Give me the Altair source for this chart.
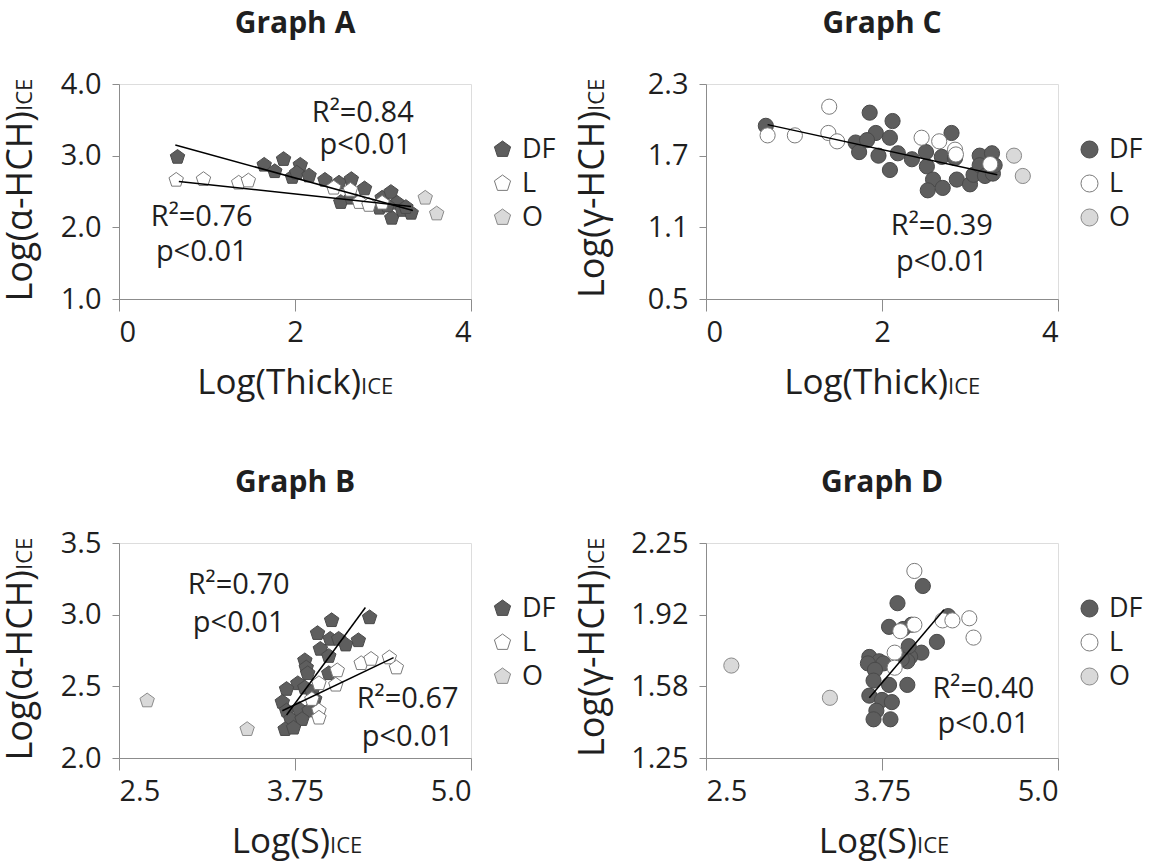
import altair as alt
import pandas as pd

FONT = "Open Sans"
INK = "#1f1f1f"
FRAME = "#8c8c8c"

GROUPS = ["DF", "L", "O"]
FILLS = ["#5e5e5e", "#ffffff", "#d9d9d9"]
STROKES = ["#4a4a4a", "#7a7a7a", "#8a8a8a"]

PENTAGON = "M0,-1L0.951,-0.309L0.588,0.809L-0.588,0.809L-0.951,-0.309Z"

# ---- Graph A: Log(alpha-HCH) vs Log(Thick) ----
a_df_x = [0.665, 1.65, 1.77, 1.87, 1.97, 2.06, 2.02, 2.16, 2.34, 2.50, 2.64, 2.52, 2.64,
          2.79, 2.99, 3.09, 2.96, 3.10, 3.16, 3.22, 3.32, 3.05, 3.26]
a_df_y = [2.98, 2.87, 2.78, 2.95, 2.70, 2.87, 2.76, 2.72, 2.66, 2.62, 2.67, 2.35, 2.41,
          2.54, 2.41, 2.49, 2.27, 2.13, 2.34, 2.24, 2.20, 2.30, 2.28]
a_l_x = [0.65, 0.96, 1.36, 1.47, 2.44, 2.63, 2.73, 2.84, 2.99]
a_l_y = [2.66, 2.67, 2.62, 2.65, 2.55, 2.52, 2.35, 2.31, 2.34]
a_o_x = [3.48, 3.61]
a_o_y = [2.41, 2.19]
a_fit_df = [(0.64, 3.15), (3.34, 2.235)]
a_fit_l = [(0.68, 2.64), (3.32, 2.29)]
a_notes = [("R²=0.84", 2.77, 3.59), ("p<0.01", 2.80, 3.15),
           ("R²=0.76", 0.94, 2.15), ("p<0.01", 0.94, 1.66)]

# ---- Graph B: Log(alpha-HCH) vs Log(S) ----
b_df_x = [4.28, 4.01, 3.91, 4.00, 4.06, 4.11, 4.20, 3.93, 3.99, 3.82, 3.83, 3.84, 3.99,
          3.77, 3.69, 3.82, 3.87, 3.66, 3.69, 3.78, 3.85, 3.89, 3.72, 3.80, 3.68, 3.74]
b_df_y = [2.98, 2.96, 2.87, 2.83, 2.83, 2.79, 2.82, 2.76, 2.71, 2.68, 2.63, 2.59, 2.59,
          2.52, 2.48, 2.49, 2.46, 2.39, 2.33, 2.34, 2.33, 2.41, 2.27, 2.27, 2.20, 2.21]
b_l_x = [4.05, 3.92, 4.04, 4.22, 4.29, 4.42, 4.47, 3.92, 3.92, 3.87]
b_l_y = [2.61, 2.52, 2.51, 2.66, 2.69, 2.70, 2.63, 2.33, 2.28, 2.41]
b_o_x = [2.70, 3.41]
b_o_y = [2.40, 2.20]
b_fit_df = [(3.69, 2.30), (4.25, 3.05)]
b_fit_l = [(3.66, 2.33), (4.45, 2.70)]
b_notes = [("R²=0.70", 3.35, 3.21), ("p<0.01", 3.35, 2.94),
           ("R²=0.67", 4.55, 2.41), ("p<0.01", 4.55, 2.15)]

# ---- Graph C: Log(gamma-HCH) vs Log(Thick) ----
c_df_x = [0.68, 1.86, 1.93, 2.12, 2.09, 1.70, 1.74, 1.83, 1.96, 2.18, 2.09, 2.34, 2.50,
          2.51, 2.58, 2.52, 2.69, 2.68, 2.79, 2.83, 2.85, 3.00, 3.04, 3.11, 3.11, 3.25,
          3.17, 3.26, 3.28]
c_df_y = [1.95, 2.06, 1.89, 1.99, 1.85, 1.81, 1.73, 1.83, 1.70, 1.72, 1.58, 1.67, 1.73,
          1.61, 1.50, 1.41, 1.43, 1.69, 1.89, 1.68, 1.50, 1.46, 1.54, 1.70, 1.62, 1.72,
          1.53, 1.55, 1.62]
c_l_x = [0.70, 1.01, 1.40, 1.39, 1.49, 2.45, 2.65, 2.83, 2.84, 3.23]
c_l_y = [1.87, 1.87, 2.11, 1.89, 1.82, 1.85, 1.82, 1.75, 1.71, 1.63]
c_o_x = [3.50, 3.60]
c_o_y = [1.70, 1.53]
c_fit_df = [(0.70, 1.96), (3.31, 1.54)]
c_notes = [("R²=0.39", 2.68, 1.11), ("p<0.01", 2.68, 0.81)]

# ---- Graph D: Log(gamma-HCH) vs Log(S) ----
d_df_x = [4.04, 3.86, 3.80, 3.96, 3.90, 4.22, 4.14, 4.03, 3.95, 3.93, 3.66, 3.73, 3.65,
          3.76, 3.70, 3.69, 3.80, 3.93, 3.66, 3.75, 3.82, 3.71, 3.69, 3.81, 3.89, 3.94]
d_df_y = [2.05, 1.97, 1.86, 1.87, 1.85, 1.91, 1.79, 1.74, 1.72, 1.70, 1.72, 1.70, 1.69,
          1.69, 1.66, 1.61, 1.59, 1.59, 1.54, 1.52, 1.51, 1.47, 1.43, 1.43, 1.71, 1.77]
d_l_x = [3.98, 3.88, 3.98, 4.18, 4.25, 4.37, 4.40, 3.84, 3.84]
d_l_y = [2.12, 1.84, 1.87, 1.89, 1.89, 1.90, 1.81, 1.74, 1.67]
d_o_x = [2.68, 3.38]
d_o_y = [1.68, 1.53]
d_fit_df = [(3.66, 1.53), (4.19, 1.94)]
d_notes = [("R²=0.40", 4.47, 1.57), ("p<0.01", 4.47, 1.41)]

W, H = 352, 215


def points_table(df_x, df_y, l_x, l_y, o_x, o_y):
    rows = []
    for grp, xs, ys in (("DF", df_x, df_y), ("L", l_x, l_y), ("O", o_x, o_y)):
        rows += [{"x": x, "y": y, "group": grp} for x, y in zip(xs, ys)]
    return pd.DataFrame(rows)


def fits_table(*fits):
    rows = []
    for i, seg in enumerate(fits):
        rows += [{"x": x, "y": y, "fit": i} for x, y in seg]
    return pd.DataFrame(rows)


def text_at(text, x, y, size, angle=0, align="center", weight="normal"):
    return alt.Chart(pd.DataFrame({"label": [text]})).mark_text(
        font=FONT, fontSize=size, angle=angle, align=align, fontWeight=weight,
        baseline="alphabetic", color=INK,
    ).encode(x=alt.value(x), y=alt.value(y), text="label:N")


def panel(title, pts, fits, notes, xdom, xvals, xlabels, ydom, yvals, ylabels,
          xname, yname, shape, x_join, y_join, y_base):
    legend = alt.Legend(
        title=None, orient="none", legendX=W + 18, legendY=52,
        symbolType=shape, symbolSize=290, symbolStrokeWidth=1,
        labelFont=FONT, labelFontSize=27, labelColor=INK,
        labelOffset=6, rowPadding=6, padding=0,
    )
    x_lab = "{" + ",".join(f"'{v}':'{t}'" for v, t in zip(xvals, xlabels)) + "}"
    y_lab = "{" + ",".join(f"'{v}':'{t}'" for v, t in zip(yvals, ylabels)) + "}"
    x_enc = alt.X("x:Q", scale=alt.Scale(domain=xdom, nice=False, zero=False),
                  axis=alt.Axis(values=xvals, title=None, grid=False,
                                labelExpr=f"{x_lab}[''+datum.value]",
                                tickSize=12, labelPadding=7, labelFontSize=29,
                                labelFont=FONT, labelColor=INK,
                                domainColor=FRAME, tickColor=FRAME))
    y_enc = alt.Y("y:Q", scale=alt.Scale(domain=ydom, nice=False, zero=False),
                  axis=alt.Axis(values=yvals, title=None, grid=False,
                                labelExpr=f"{y_lab}[''+datum.value]",
                                tickSize=7, labelPadding=11, labelFontSize=29,
                                labelFont=FONT, labelColor=INK,
                                domainColor=FRAME, tickColor=FRAME))
    dots = alt.Chart(pts).mark_point(
        shape=shape, filled=True, size=230, strokeWidth=1, opacity=1
    ).encode(
        x=x_enc, y=y_enc,
        fill=alt.Fill("group:N", scale=alt.Scale(domain=GROUPS, range=FILLS), legend=legend),
        stroke=alt.Stroke("group:N", scale=alt.Scale(domain=GROUPS, range=STROKES), legend=legend),
    )
    lines = alt.Chart(fits).mark_line(color="black", strokeWidth=1.5).encode(
        x="x:Q", y="y:Q", detail="fit:N"
    )
    note_df = pd.DataFrame(notes, columns=["text", "x", "y"])
    note_layer = alt.Chart(note_df).mark_text(
        font=FONT, fontSize=29, color=INK, baseline="middle"
    ).encode(x="x:Q", y="y:Q", text="text:N")
    layers = [
        dots, lines, note_layer,
        text_at(title, W / 2, -51, 30, weight="bold"),
        text_at(xname, x_join, H + 95, 35, align="right"),
        text_at("ICE", x_join, H + 95, 22, align="left"),
        text_at(yname, y_base, y_join, 36, angle=270, align="right"),
        text_at("ICE", y_base, y_join, 22, angle=270, align="left"),
    ]
    return alt.layer(*layers).properties(width=W, height=H)


graph_a = panel("Graph A", points_table(a_df_x, a_df_y, a_l_x, a_l_y, a_o_x, a_o_y),
                fits_table(a_fit_df, a_fit_l), a_notes,
                [0, 4], [0, 2, 4], ["0", "2", "4"],
                [1, 4], [1, 2, 3, 4], ["1.0", "2.0", "3.0", "4.0"],
                "Log(Thick)", "Log(α-HCH)", PENTAGON, 242, 27, -87)
graph_c = panel("Graph C", points_table(c_df_x, c_df_y, c_l_x, c_l_y, c_o_x, c_o_y),
                fits_table(c_fit_df), c_notes,
                [0, 4], [0, 2, 4], ["0", "2", "4"],
                [0.5, 2.3], [0.5, 1.1, 1.7, 2.3], ["0.5", "1.1", "1.7", "2.3"],
                "Log(Thick)", "Log(γ-HCH)", "circle", 242, 27, -102)
graph_b = panel("Graph B", points_table(b_df_x, b_df_y, b_l_x, b_l_y, b_o_x, b_o_y),
                fits_table(b_fit_df, b_fit_l), b_notes,
                [2.5, 5.0], [2.5, 3.75, 5], ["2.5", "3.75", "5.0"],
                [2.0, 3.5], [2, 2.5, 3, 3.5], ["2.0", "2.5", "3.0", "3.5"],
                "Log(S)", "Log(α-HCH)", PENTAGON, 211, 27, -87)
graph_d = panel("Graph D", points_table(d_df_x, d_df_y, d_l_x, d_l_y, d_o_x, d_o_y),
                fits_table(d_fit_df), d_notes,
                [2.5, 5.0], [2.5, 3.75, 5], ["2.5", "3.75", "5.0"],
                [1.25, 2.25], [1.25, 1.5833333333333333, 1.9166666666666667, 2.25],
                ["1.25", "1.58", "1.92", "2.25"],
                "Log(S)", "Log(γ-HCH)", "circle", 211, 27, -102)

INDEP = dict(x="independent", y="independent", fill="independent", stroke="independent")


def row(left, right):
    # plot areas laid out edge to edge, so spacing is the gap between the frames
    return alt.hconcat(left, right, spacing=235, bounds="flush").resolve_scale(
        **INDEP
    ).resolve_legend(fill="independent", stroke="independent")


# a flush row counts as zero height, so the spacing runs from top frame to top frame
chart = alt.vconcat(
    row(graph_a, graph_c), row(graph_b, graph_d), spacing=459, bounds="flush"
).resolve_scale(**INDEP).resolve_legend(
    fill="independent", stroke="independent"
).properties(
    padding={"left": 2, "top": 8, "right": 0, "bottom": 0}
).configure_view(stroke=FRAME, strokeWidth=1).configure(background="white")

chart.save("out.html", embed_options={"renderer": "svg", "actions": False})
